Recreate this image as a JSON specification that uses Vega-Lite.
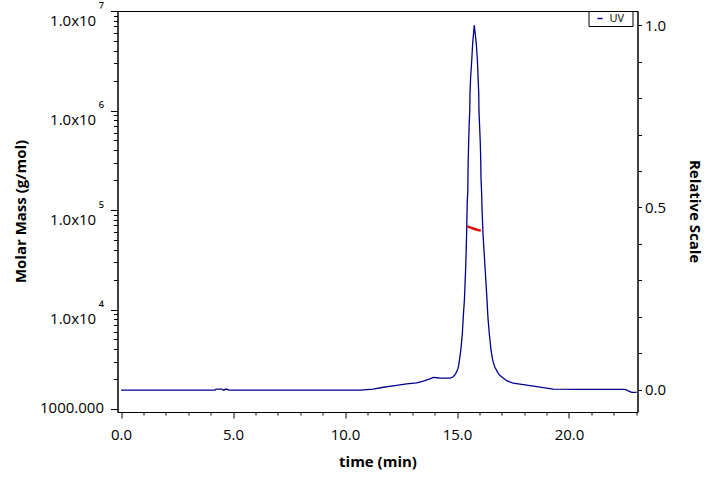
{
  "$schema": "https://vega.github.io/schema/vega-lite/v6.json",
  "width": 520,
  "height": 401,
  "autosize": {"type": "none"},
  "padding": {"left": 117.5, "top": 11, "right": 82.5, "bottom": 67},
  "background": "white",
  "config": {
    "view": {"stroke": "black", "strokeWidth": 1},
    "font": "Open Sans",
    "axis": {
      "grid": false,
      "domainColor": "black",
      "tickColor": "black",
      "labelColor": "black",
      "titleColor": "black",
      "labelFont": "Open Sans",
      "labelFontSize": 15,
      "titleFont": "Open Sans",
      "titleFontSize": 15,
      "titleFontWeight": "bold",
      "labelOverlap": false,
      "labelFlush": false
    }
  },
  "datasets": {
    "uv": [
      {"time": 0, "uv": -0.001}, {"time": 4.2, "uv": -0.001}, {"time": 4.24, "uv": 0.002},
      {"time": 4.5, "uv": 0.002}, {"time": 4.57, "uv": -0.001}, {"time": 4.69, "uv": 0.002},
      {"time": 4.83, "uv": -0.001}, {"time": 10.73, "uv": -0.001}, {"time": 10.82, "uv": 0.0},
      {"time": 11.26, "uv": 0.002}, {"time": 11.71, "uv": 0.007}, {"time": 12.31, "uv": 0.012},
      {"time": 12.75, "uv": 0.016}, {"time": 13.2, "uv": 0.019}, {"time": 13.5, "uv": 0.024},
      {"time": 13.79, "uv": 0.03}, {"time": 13.94, "uv": 0.034}, {"time": 14.09, "uv": 0.033},
      {"time": 14.24, "uv": 0.032}, {"time": 14.69, "uv": 0.032}, {"time": 14.82, "uv": 0.035},
      {"time": 14.93, "uv": 0.043}, {"time": 15.02, "uv": 0.054}, {"time": 15.07, "uv": 0.065},
      {"time": 15.11, "uv": 0.082}, {"time": 15.17, "uv": 0.109}, {"time": 15.24, "uv": 0.155},
      {"time": 15.28, "uv": 0.2}, {"time": 15.33, "uv": 0.246}, {"time": 15.39, "uv": 0.338},
      {"time": 15.43, "uv": 0.429}, {"time": 15.46, "uv": 0.521}, {"time": 15.48, "uv": 0.539},
      {"time": 15.49, "uv": 0.584}, {"time": 15.5, "uv": 0.63}, {"time": 15.52, "uv": 0.676},
      {"time": 15.54, "uv": 0.722}, {"time": 15.57, "uv": 0.767}, {"time": 15.58, "uv": 0.813},
      {"time": 15.61, "uv": 0.859}, {"time": 15.66, "uv": 0.905}, {"time": 15.7, "uv": 0.95},
      {"time": 15.77, "uv": 1.0}, {"time": 15.86, "uv": 0.95}, {"time": 15.91, "uv": 0.905},
      {"time": 15.94, "uv": 0.859}, {"time": 15.97, "uv": 0.813}, {"time": 15.98, "uv": 0.767},
      {"time": 16.01, "uv": 0.722}, {"time": 16.04, "uv": 0.676}, {"time": 16.06, "uv": 0.63},
      {"time": 16.07, "uv": 0.584}, {"time": 16.1, "uv": 0.539}, {"time": 16.12, "uv": 0.493},
      {"time": 16.16, "uv": 0.429}, {"time": 16.25, "uv": 0.338}, {"time": 16.34, "uv": 0.246},
      {"time": 16.38, "uv": 0.2}, {"time": 16.44, "uv": 0.155}, {"time": 16.52, "uv": 0.109},
      {"time": 16.59, "uv": 0.082}, {"time": 16.68, "uv": 0.063}, {"time": 16.84, "uv": 0.045},
      {"time": 16.92, "uv": 0.039}, {"time": 17.22, "uv": 0.025}, {"time": 17.51, "uv": 0.018},
      {"time": 17.96, "uv": 0.014}, {"time": 18.41, "uv": 0.01}, {"time": 18.85, "uv": 0.006},
      {"time": 19.3, "uv": 0.002}, {"time": 20.49, "uv": 0.001}, {"time": 22.5, "uv": 0.001},
      {"time": 22.65, "uv": -0.003}, {"time": 22.8, "uv": -0.007}, {"time": 23.02, "uv": -0.007}
    ],
    "mass": [
      {"time": 15.46, "mass": 68700}, {"time": 15.55, "mass": 67300}, {"time": 15.65, "mass": 66000},
      {"time": 15.76, "mass": 64800}, {"time": 15.86, "mass": 63700}, {"time": 15.96, "mass": 62800},
      {"time": 16.06, "mass": 62000}
    ]
  },
  "layer": [
    {
      "data": {"name": "uv"},
      "mark": {"type": "line", "strokeWidth": 1.3, "interpolate": "linear"},
      "encoding": {
        "x": {
          "field": "time",
          "type": "quantitative",
          "scale": {"domain": [-0.16, 23.06], "nice": false, "zero": false},
          "axis": {
            "title": "time (min)",
            "values": [0,1,2,3,4,5,6,7,8,9,10,11,12,13,14,15,16,17,18,19,20,21,22,23],
            "tickCount": 100,
            "labelExpr": "datum.value % 5 == 0 ? format(datum.value, '.1f') : ''",
            "labelOverlap": false,
            "tickSize": {"condition": {"test": "datum.value % 5 == 0", "value": 6}, "value": 3},
            "labelPadding": 9,
            "titlePadding": 12
          }
        },
        "y": {
          "field": "uv",
          "type": "quantitative",
          "scale": {"domain": [-0.0609, 1.0389], "nice": false, "zero": false},
          "axis": {
            "orient": "right",
            "title": "Relative Scale",
            "values": [0, 0.1, 0.2, 0.3, 0.4, 0.5, 0.6, 0.7, 0.8, 0.9, 1],
            "tickCount": 100,
            "labelExpr": "datum.value == 0 || datum.value == 0.5 || datum.value == 1 ? format(datum.value, '.1f') : ''",
            "labelOverlap": false,
            "tickSize": 4,
            "labelPadding": 3,
            "labelBaseline": "middle",
            "titleAngle": 90,
            "titleX": 56.5,
            "titleY": 200,
            "titleAlign": "center",
            "titleBaseline": "middle"
          }
        },
        "color": {
          "datum": "UV",
          "scale": {"range": ["#000090"]},
          "legend": {
            "title": null,
            "orient": "none",
            "legendX": 471,
            "legendY": 0,
            "strokeColor": "black",
            "fillColor": "white",
            "padding": 2,
            "symbolType": "stroke",
            "symbolSize": 25,
            "symbolStrokeWidth": 1.5,
            "symbolOffset": 4,
            "labelOffset": 4,
            "labelFontSize": 11,
            "labelFont": "Open Sans",
            "labelColor": "black",
            "labelExpr": "datum.label + '\u00a0\u00a0\u200b'"
          }
        }
      }
    },
    {
      "data": {"name": "mass"},
      "mark": {"type": "line", "strokeWidth": 2.4, "color": "#e00000"},
      "encoding": {
        "x": {"field": "time", "type": "quantitative", "scale": {"domain": [-0.16, 23.06], "nice": false, "zero": false}},
        "y": {
          "field": "mass",
          "type": "quantitative",
          "scale": {"type": "log", "domain": [933, 10000000], "nice": false},
          "axis": {
            "orient": "left",
            "title": "Molar Mass (g/mol)",
            "values": [1000,2000,3000,4000,5000,6000,7000,8000,9000,10000,20000,30000,40000,50000,60000,70000,80000,90000,100000,200000,300000,400000,500000,600000,700000,800000,900000,1000000,2000000,3000000,4000000,5000000,6000000,7000000,8000000,9000000,10000000],
            "tickCount": 100,
            "labelExpr": "datum.value == 1000 ? '1000.000' : datum.value == 10000 ? ['\u2074', '1.0x10\u00a0\u00a0\u200b'] : datum.value == 100000 ? ['\u2075', '1.0x10\u00a0\u00a0\u200b'] : datum.value == 1000000 ? ['\u2076', '1.0x10\u00a0\u00a0\u200b'] : datum.value == 10000000 ? ['\u2077', '1.0x10\u00a0\u00a0\u200b'] : ''",
            "labelOverlap": false,
            "tickSize": {"condition": {"test": "datum.value == 1000 || datum.value == 10000 || datum.value == 100000 || datum.value == 1000000 || datum.value == 10000000", "value": 7}, "value": 4},
            "labelPadding": 7,
            "labelBaseline": "middle",
            "labelLineHeight": 11,
            "labelOffset": -2,
            "titleX": -97.5,
            "titleY": 200,
            "titleAlign": "center",
            "titleBaseline": "middle"
          }
        }
      }
    }
  ],
  "resolve": {"scale": {"y": "independent"}}
}
